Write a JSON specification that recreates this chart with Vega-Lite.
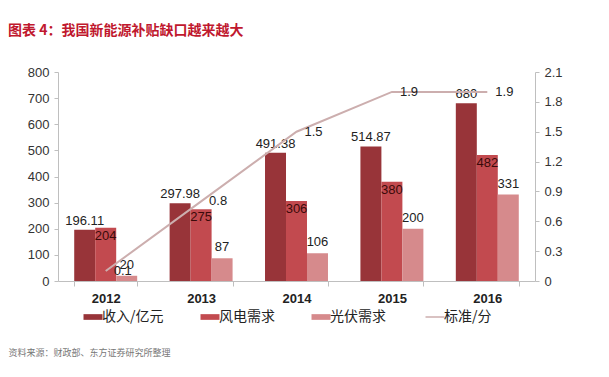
{
  "$schema": "https://vega.github.io/schema/vega-lite/v6.json",
  "autosize": {"type": "none"},
  "width": 477,
  "height": 209,
  "padding": {"left": 58, "top": 72, "right": 74, "bottom": 96},
  "background": "white",
  "config": {
    "font": "Liberation Sans, Noto Sans CJK SC",
    "view": {"stroke": null}
  },
  "title": {
    "text": "图表 4：我国新能源补贴缺口越来越大",
    "anchor": "start",
    "frame": "group",
    "dx": -50,
    "offset": 28,
    "color": "#C0182E",
    "fontSize": 14,
    "fontWeight": "bold",
    "font": "Noto Sans CJK SC"
  },
  "data": {
    "values": [
      {"year": "2012", "series": "收入/亿元", "value": 196.11, "label": "196.11"},
      {"year": "2013", "series": "收入/亿元", "value": 297.98, "label": "297.98"},
      {"year": "2014", "series": "收入/亿元", "value": 491.38, "label": "491.38"},
      {"year": "2015", "series": "收入/亿元", "value": 514.87, "label": "514.87"},
      {"year": "2016", "series": "收入/亿元", "value": 680, "label": "680"},
      {"year": "2012", "series": "风电需求", "value": 204, "label": "204"},
      {"year": "2013", "series": "风电需求", "value": 275, "label": "275"},
      {"year": "2014", "series": "风电需求", "value": 306, "label": "306"},
      {"year": "2015", "series": "风电需求", "value": 380, "label": "380"},
      {"year": "2016", "series": "风电需求", "value": 482, "label": "482"},
      {"year": "2012", "series": "光伏需求", "value": 20, "label": "20"},
      {"year": "2013", "series": "光伏需求", "value": 87, "label": "87"},
      {"year": "2014", "series": "光伏需求", "value": 106, "label": "106"},
      {"year": "2015", "series": "光伏需求", "value": 200, "label": "200"},
      {"year": "2016", "series": "光伏需求", "value": 331, "label": "331"},
      {"year": "2012", "series": "标准/分", "value": 0.1, "label": "0.1"},
      {"year": "2013", "series": "标准/分", "value": 0.8, "label": "0.8"},
      {"year": "2014", "series": "标准/分", "value": 1.5, "label": "1.5"},
      {"year": "2015", "series": "标准/分", "value": 1.9, "label": "1.9"},
      {"year": "2016", "series": "标准/分", "value": 1.9, "label": "1.9"}
    ]
  },
  "layer": [
    {
      "transform": [{"filter": "datum.series !== '标准/分'"}],
      "encoding": {
        "x": {
          "field": "year",
          "type": "nominal",
          "scale": {"paddingInner": 0.34, "paddingOuter": 0.17},
          "axis": {
            "title": "资料来源：财政部、东方证券研究所整理",
            "titleAnchor": "start",
            "titleAlign": "left",
            "titleBaseline": "middle",
            "titleX": -50,
            "titleY": 71,
            "titleFontSize": 9,
            "titleFontWeight": "normal",
            "titleColor": "#777777",
            "titleFont": "Noto Sans CJK SC",
            "labelAngle": 0,
            "labelFontWeight": "bold",
            "labelFontSize": 13,
            "labelColor": "#222222",
            "labelPadding": 6,
            "domainColor": "#BFBFBF",
            "tickColor": "#BFBFBF",
            "tickSize": 5,
            "tickBand": "extent"
          }
        },
        "xOffset": {
          "field": "series",
          "type": "nominal",
          "scale": {"domain": ["收入/亿元", "风电需求", "光伏需求"], "paddingInner": 0, "paddingOuter": 0}
        },
        "y": {
          "field": "value",
          "type": "quantitative",
          "scale": {"domain": [0, 800], "nice": false},
          "axis": {
            "title": null,
            "values": [0, 100, 200, 300, 400, 500, 600, 700, 800],
            "grid": false,
            "domainColor": "#BFBFBF",
            "tickColor": "#BFBFBF",
            "tickSize": 4,
            "labelFontSize": 13,
            "labelColor": "#333333",
            "labelPadding": 5
          }
        }
      },
      "layer": [
        {
          "mark": {"type": "bar"},
          "encoding": {
            "color": {
              "field": "series",
              "type": "nominal",
              "scale": {
                "domain": ["收入/亿元", "风电需求", "光伏需求", "标准/分"],
                "range": ["#983439", "#C24A4F", "#D68A8C", "#CCAEAE"]
              },
              "legend": {
                "orient": "none",
                "legendX": 28,
                "legendY": 238,
                "direction": "horizontal",
                "title": null,
                "labelFontSize": 14,
                "labelColor": "#222222",
                "labelFont": "Noto Sans CJK SC",
                "symbolSize": 361,
                "columnPadding": 36,
                "labelOffset": 2,
                "symbolType": "M-1,-0.3H1V0.3H-1Z",
                "encode": {
                  "symbols": {
                    "update": {
                      "shape": {"signal": "datum.value === '标准/分' ? 'stroke' : 'M-1,-0.3H1V0.3H-1Z'"},
                      "fill": {"signal": "datum.value === '标准/分' ? 'transparent' : scale('color', datum.value)"},
                      "stroke": {"signal": "scale('color', datum.value)"},
                      "strokeWidth": {"signal": "datum.value === '标准/分' ? 1.5 : 0"},
                      "opacity": {"value": 1}
                    }
                  }
                }
              }
            }
          }
        },
        {
          "transform": [{"filter": "datum.series === '收入/亿元'"}],
          "mark": {"type": "text", "dy": -9, "fontSize": 13, "color": "#222222"},
          "encoding": {"text": {"field": "label"}}
        },
        {
          "transform": [{"filter": "datum.series === '风电需求'"}],
          "mark": {"type": "text", "dy": 8, "fontSize": 13, "color": "#3A0A0A"},
          "encoding": {"text": {"field": "label"}}
        },
        {
          "transform": [{"filter": "datum.series === '光伏需求'"}],
          "mark": {"type": "text", "dy": -11, "fontSize": 13, "color": "#222222"},
          "encoding": {"text": {"field": "label"}}
        }
      ]
    },
    {
      "transform": [{"filter": "datum.series === '标准/分'"}],
      "encoding": {
        "x": {"field": "year", "type": "nominal"},
        "y": {
          "field": "value",
          "type": "quantitative",
          "scale": {"domain": [0, 2.1], "nice": false},
          "axis": {
            "orient": "right",
            "title": null,
            "values": [0, 0.3, 0.6, 0.9, 1.2, 1.5, 1.8, 2.1],
            "format": ".1~f",
            "grid": false,
            "domainColor": "#BFBFBF",
            "tickColor": "#BFBFBF",
            "tickSize": 4,
            "labelFontSize": 13,
            "labelColor": "#333333",
            "labelPadding": 5
          }
        }
      },
      "layer": [
        {
          "mark": {"type": "line", "strokeWidth": 2},
          "encoding": {"color": {"field": "series", "type": "nominal"}}
        },
        {
          "mark": {"type": "text", "align": "left", "dx": 8, "fontSize": 13, "color": "#222222"},
          "encoding": {"text": {"field": "label"}}
        }
      ]
    }
  ],
  "resolve": {"scale": {"y": "independent"}}
}
